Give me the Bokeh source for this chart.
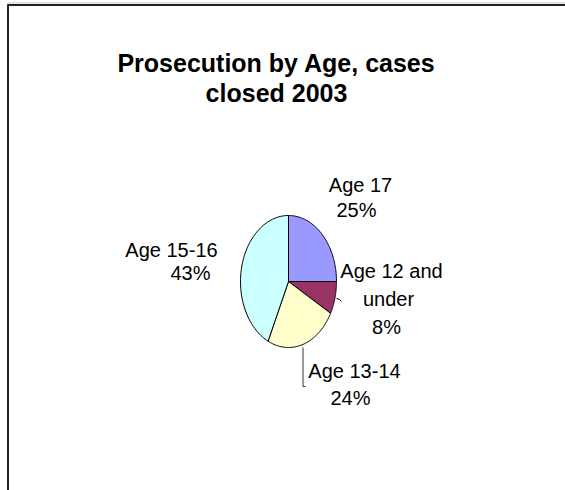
import numpy as np
from bokeh.plotting import figure
from bokeh.models import Range1d, ColumnDataSource
from bokeh.embed import file_html
from bokeh.resources import INLINE
from bokeh.core.properties import value

# ---- data ----
categories = ["Age 17", "Age 12 and under", "Age 13-14", "Age 15-16"]
shares = [25, 8, 24, 43]
colors = ["#9999FF", "#993366", "#FFFFCC", "#CCFFFF"]
title_lines = ["Prosecution by Age, cases", "closed 2003"]
label_lines = [["Age 17", "25%"], ["Age 12 and", "under", "8%"], ["Age 13-14", "24%"], ["Age 15-16", "43%"]]

# ---- layout (pixels) ----
W, H = 565, 490
cx, cy, rx, ry = 288, 281, 48, 66
label_pos = [
    [(360, 184), (356, 209)],
    [(391, 270), (388, 298), (386, 326)],
    [(354, 370), (350, 397)],
    [(171, 249), (190, 272)],
]
title_pos = [(276, 62), (276, 92)]

p = figure(width=W, height=H, x_range=Range1d(0, W), y_range=Range1d(H, 0),
           output_backend="svg", toolbar_location=None, min_border=0,
           x_axis_location=None, y_axis_location=None)
p.grid.visible = False
p.outline_line_color = None
p.background_fill_color = "white"
p.border_fill_color = "white"

# frame lines
p.line([7, 565], [2.5, 2.5], line_color="#c8c8c8", line_width=1)
p.line([7, 565], [4.5, 4.5], line_color="#222222", line_width=2)
p.line([7.5, 7.5], [4, 490], line_color="#222222", line_width=2)

# pie slices as elliptical patches
total = float(sum(shares))
xs, ys = [], []
start = -np.pi / 2
for s in shares:
    end = start + 2 * np.pi * s / total
    t = np.linspace(start, end, 80)
    xs.append([cx] + list(cx + rx * np.cos(t)) + [cx])
    ys.append([cy] + list(cy + ry * np.sin(t)) + [cy])
    start = end
src = ColumnDataSource(dict(xs=xs, ys=ys, color=colors, cat=categories))
p.patches("xs", "ys", source=src, fill_color="color", line_color="black", line_width=1)

# leader lines
p.line([336, 339, 341], [298, 299, 301], line_color="black", line_width=1)
p.line([302.5, 302.5, 305], [347, 386, 386], line_color="#333333", line_width=1)

# labels
lx, ly, lt = [], [], []
for lines, pos in zip(label_lines, label_pos):
    for txt, (x, y) in zip(lines, pos):
        lx.append(x); ly.append(y); lt.append(txt)
p.text(lx, ly, text=lt, text_align="center", text_baseline="alphabetic",
       text_font=value("Liberation Sans"), text_font_size="20px", text_color="black")

# title
p.text([q[0] for q in title_pos], [q[1] for q in title_pos], text=title_lines,
       text_align="center", text_baseline="alphabetic",
       text_font=value("Liberation Sans"), text_font_size="25px",
       text_font_style="bold", text_color="black")

open("out.html", "w").write(file_html(p, INLINE))
